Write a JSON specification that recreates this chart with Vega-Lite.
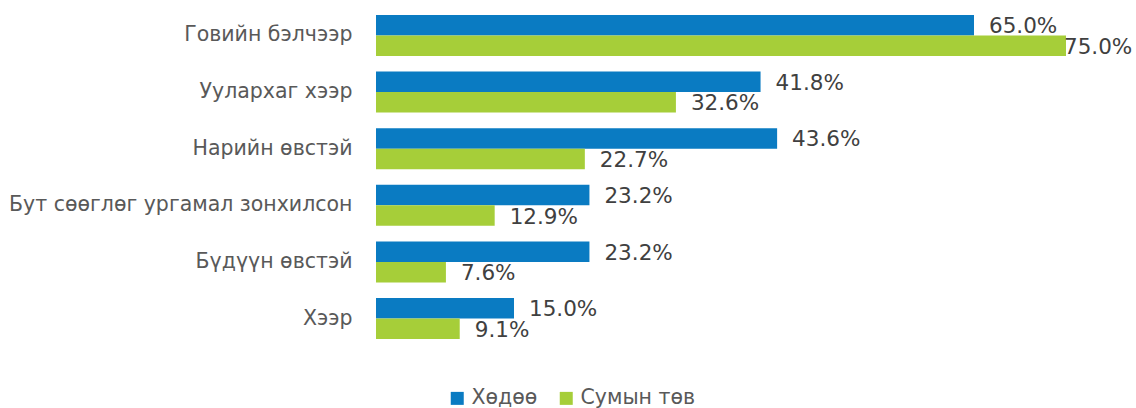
{
  "$schema": "https://vega.github.io/schema/vega-lite/v6.json",
  "autosize": {"type": "none"},
  "padding": {"left": 376, "top": 7, "right": 24, "bottom": 61},
  "width": 736,
  "height": 340,
  "background": "white",
  "config": {
    "view": {"stroke": null},
    "font": "DejaVu Sans"
  },
  "data": {
    "values": [
      {"category": "Говийн бэлчээр", "series": "Хөдөө", "value": 0.650},
      {"category": "Говийн бэлчээр", "series": "Сумын төв", "value": 0.750},
      {"category": "Уулархаг хээр", "series": "Хөдөө", "value": 0.418},
      {"category": "Уулархаг хээр", "series": "Сумын төв", "value": 0.326},
      {"category": "Нарийн өвстэй", "series": "Хөдөө", "value": 0.436},
      {"category": "Нарийн өвстэй", "series": "Сумын төв", "value": 0.227},
      {"category": "Бут сөөглөг ургамал зонхилсон", "series": "Хөдөө", "value": 0.232},
      {"category": "Бут сөөглөг ургамал зонхилсон", "series": "Сумын төв", "value": 0.129},
      {"category": "Бүдүүн өвстэй", "series": "Хөдөө", "value": 0.232},
      {"category": "Бүдүүн өвстэй", "series": "Сумын төв", "value": 0.076},
      {"category": "Хээр", "series": "Хөдөө", "value": 0.150},
      {"category": "Хээр", "series": "Сумын төв", "value": 0.091}
    ]
  },
  "encoding": {
    "y": {
      "field": "category",
      "type": "nominal",
      "sort": null,
      "scale": {"paddingInner": 0.2756, "paddingOuter": 0.141},
      "axis": {
        "title": null,
        "domain": false,
        "ticks": false,
        "labelPadding": 24,
        "labelFontSize": 20.5,
        "labelColor": "#595959",
        "labelFont": "DejaVu Sans",
        "labelLimit": 400
      }
    },
    "yOffset": {"field": "series", "type": "nominal", "sort": ["Хөдөө", "Сумын төв"]},
    "x": {
      "field": "value",
      "type": "quantitative",
      "scale": {"domain": [0, 0.8], "nice": false},
      "axis": null
    }
  },
  "layer": [
    {
      "mark": {"type": "bar"},
      "encoding": {
        "color": {
          "field": "series",
          "type": "nominal",
          "sort": ["Хөдөө", "Сумын төв"],
          "scale": {"domain": ["Хөдөө", "Сумын төв"], "range": ["#0A7BC2", "#A6CE39"]},
          "legend": {
            "title": null,
            "orient": "none",
            "direction": "horizontal",
            "legendX": 71,
            "legendY": 381,
            "symbolType": "square",
            "symbolSize": 169,
            "symbolStrokeWidth": 0,
            "labelFontSize": 20.5,
            "labelColor": "#595959",
            "labelOffset": 4,
            "columnPadding": 18
          }
        }
      }
    },
    {
      "transform": [{"filter": "datum.value < 0.7"}],
      "mark": {"type": "text", "align": "left", "baseline": "middle", "dx": 15, "dy": 2, "fontSize": 21.5, "color": "#404040"},
      "encoding": {
        "text": {"field": "value", "type": "quantitative", "format": ".1%"}
      }
    },
    {
      "transform": [{"filter": "datum.value >= 0.7"}],
      "mark": {"type": "text", "align": "left", "baseline": "middle", "dx": -2, "dy": 2, "fontSize": 21.5, "color": "#404040"},
      "encoding": {
        "text": {"field": "value", "type": "quantitative", "format": ".1%"}
      }
    }
  ]
}
